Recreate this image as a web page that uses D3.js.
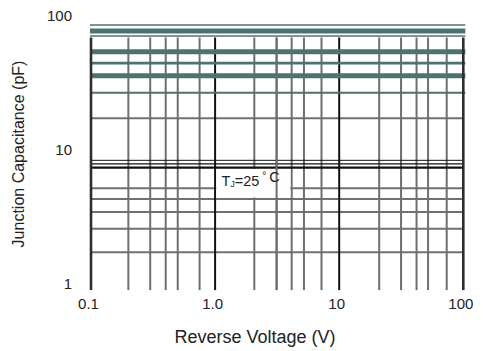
<!DOCTYPE html>
<html>
<head>
<meta charset="utf-8">
<script src="https://cdn.jsdelivr.net/npm/d3@7"></script>
<style>
  html, body { margin: 0; padding: 0; background: #fff; }
  svg { display: block; font-family: "Liberation Sans", Arial, sans-serif; }
  .tick text { fill: #222; font-size: 15px; }
  .title { fill: #222; }
</style>
</head>
<body>
<svg id="chart" width="483" height="351"></svg>
<script>
(function () {
      'use strict';

      // values
      var xMajor = [0.1, 1, 10, 100];
      var xTickLabels = ['0.1', '1.0', '10', '100'];
      var xMinor = [0.2, 0.3, 0.4, 0.5, 0.75, 2.07, 3.13, 4.14, 5.2, 7.2, 21, 31.5, 42, 52, 73.5];
      var yTicks = [1, 10, 100];
      var yTickLabels = ['1', '10', '100'];
      var yMinor = [2, 3, 4, 5, 6, 20];
      var gridTop = 80;
      var tealLevels = [99, 89.6, 81.9, 62.5, 51.5, 41.4, 30.9];
      var blackLevels = [9.7, 9.13, 8.57];
      var labelSpan = [1, 4.14];

      // line weights, by index
      var tealWidths = [1.5, 5, 1.5, 5, 2.7, 5, 2];
      var blackWidths = [1, 1.3, 2.2];

      var svg = d3.select('#chart');

      var x = d3.scaleLog().domain([0.1, 100]).range([91, 463.3]);
      var y = d3.scaleLog().domain([1, 100]).range([292.6, 24.5]);

      function vLines(cls, data, color, width) {
            svg.append('g').classed(cls, true)
                  .selectAll('line')
                  .data(data)
                  .enter().append('line')
                  .attr('x1', function(d) { return x(d); })
                  .attr('x2', function(d) { return x(d); })
                  .attr('y1', y(gridTop))
                  .attr('y2', y(1) - 2.5)
                  .attr('stroke', color)
                  .attr('stroke-width', width);
      }

      function hLines(cls, data, color, widths, x1, x2) {
            svg.append('g').classed(cls, true)
                  .selectAll('line')
                  .data(data)
                  .enter().append('line')
                  .attr('x1', x1)
                  .attr('x2', x2)
                  .attr('y1', function(d) { return y(d); })
                  .attr('y2', function(d) { return y(d); })
                  .attr('stroke', color)
                  .attr('stroke-width', function(d, i) { return typeof widths === 'number' ? widths : widths[i]; });
      }

      // grid
      hLines('h-grid', yMinor, '#707070', 2, x(0.1), x(100));
      vLines('v-grid', xMinor, '#6e6e6e', 2);
      vLines('v-major', xMajor.slice(1, 3), '#111', 2);

      // curves
      hLines('teal', tealLevels, '#4b7470', tealWidths, x(0.1) - 1, x(100) + 2);
      hLines('black', blackLevels, '#111', blackWidths, x(0.1), x(100));

      // frame sides
      vLines('frame', [xMajor[0], xMajor[3]], '#2e2e2e', 2.6);

      // condition label
      svg.append('rect')
            .attr('x', x(labelSpan[0]) + 1.2)
            .attr('y', y(blackLevels[2]) + 1.5)
            .attr('width', x(labelSpan[1]) - x(labelSpan[0]) - 2.5)
            .attr('height', 28.5)
            .attr('fill', '#fff');
      vLines('v-over', [xMinor[6]], '#6e6e6e', 2);

      var label = svg.append('text')
            .classed('title', true)
            .attr('x', x(labelSpan[0]) + 6.5)
            .attr('y', 185.7)
            .style('font-size', '14.5px');
      label.append('tspan').text('T');
      label.append('tspan').attr('dy', 1).style('font-size', '8.5px').text('J');
      label.append('tspan').attr('dy', -1).text('=25');
      label.append('tspan').attr('dx', 3).attr('dy', -7).style('font-size', '10px').text('°');
      label.append('tspan').attr('dx', 3).attr('dy', 3).text('C');

      // axes
      svg.append('g')
            .attr('transform', 'translate(0,' + y(1) + ')')
            .call(d3.axisBottom(x)
                  .tickValues(xMajor)
                  .tickSize(0)
                  .tickPadding(6)
                  .tickFormat(function(d, i) { return xTickLabels[i]; }))
            .call(function(g) { g.select('.domain').remove(); })
            .selectAll('text')
            .attr('dx', -3);

      svg.append('g')
            .attr('transform', 'translate(' + x(0.1) + ',0)')
            .call(d3.axisLeft(y)
                  .tickValues(yTicks)
                  .tickSize(0)
                  .tickPadding(19)
                  .tickFormat(function(d, i) { return yTickLabels[i]; }))
            .call(function(g) { g.select('.domain').remove(); })
            .selectAll('text')
            .attr('dy', -4);

      svg.append('text')
            .classed('title', true)
            .attr('x', 255)
            .attr('y', 343)
            .attr('text-anchor', 'middle')
            .style('font-size', '18px')
            .text('Reverse Voltage (V)');

      svg.append('text')
            .classed('title', true)
            .attr('transform', 'translate(23.5,154) rotate(-90)')
            .attr('text-anchor', 'middle')
            .style('font-size', '16px')
            .text('Junction Capacitance (pF)');
})();
</script>
</body>
</html>
